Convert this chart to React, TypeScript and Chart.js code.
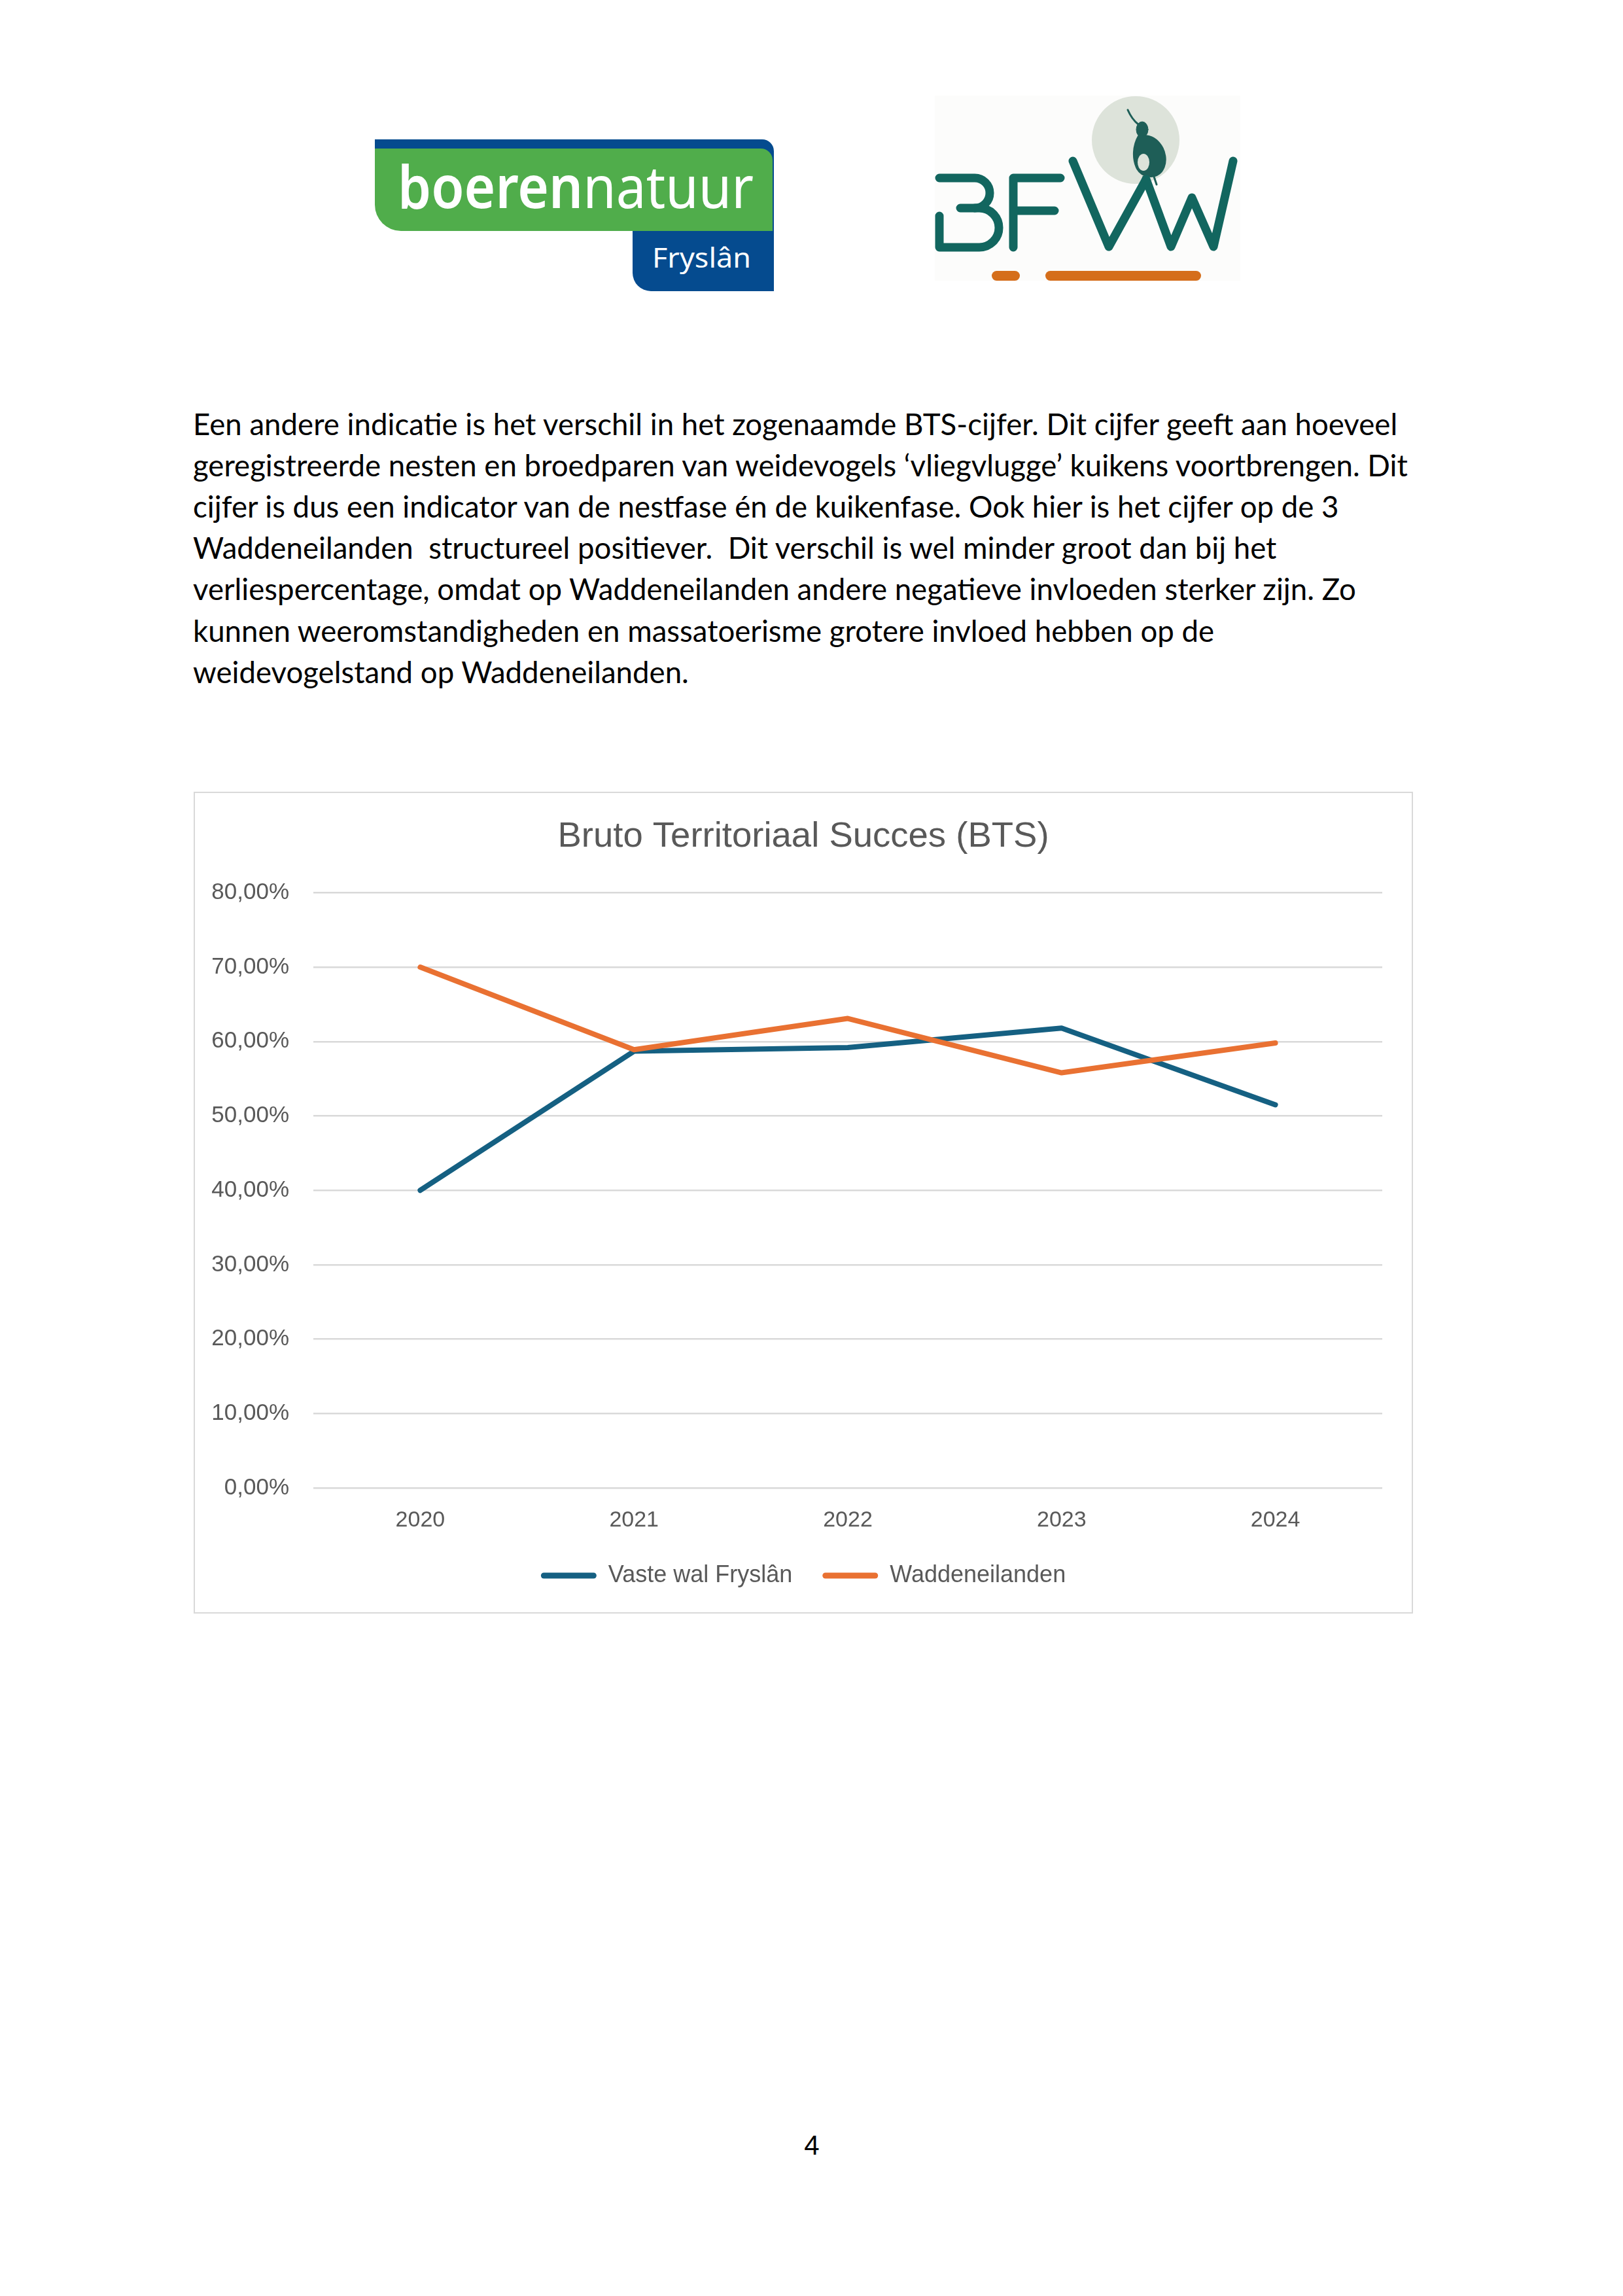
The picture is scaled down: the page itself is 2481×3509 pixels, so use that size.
import React, { useEffect, useRef } from "react";
import { Chart, registerables } from "chart.js";

Chart.register(...registerables);

// ---- Data ----
const chartTitle = "Bruto Territoriaal Succes (BTS)";
const years = ["2020", "2021", "2022", "2023", "2024"];
const seriesNames = ["Vaste wal Fryslân", "Waddeneilanden"];
const vasteWalFryslan = [40.0, 58.7, 59.2, 61.8, 51.5];
const waddeneilanden = [70.0, 58.9, 63.1, 55.8, 59.8];
const yMin = 0;
const yMax = 80;
const yStep = 10;
const seriesColors = ["#156082", "#E97132"];

const bodyLines = [
  "Een andere indicatie is het verschil in het zogenaamde BTS-cijfer. Dit cijfer geeft aan hoeveel",
  "geregistreerde nesten en broedparen van weidevogels ‘vliegvlugge’ kuikens voortbrengen. Dit",
  "cijfer is dus een indicator van de nestfase én de kuikenfase. Ook hier is het cijfer op de 3",
  "Waddeneilanden  structureel positiever.  Dit verschil is wel minder groot dan bij het",
  "verliespercentage, omdat op Waddeneilanden andere negatieve invloeden sterker zijn. Zo",
  "kunnen weeromstandigheden en massatoerisme grotere invloed hebben op de",
  "weidevogelstand op Waddeneilanden.",
];
const pageNumber = "4";

const chartFont = "'Liberation Sans', Arial, sans-serif";
const textGrey = "#595959";

function formatPct(v: number): string {
  return v.toFixed(2).replace(".", ",") + "%";
}

function BtsChart() {
  const ref = useRef<HTMLCanvasElement | null>(null);
  useEffect(() => {
    if (!ref.current) return;
    const chart = new Chart(ref.current, {
      type: "line",
      data: {
        labels: years,
        datasets: [
          {
            label: seriesNames[0],
            data: vasteWalFryslan,
            borderColor: seriesColors[0],
            backgroundColor: seriesColors[0],
            borderWidth: 8,
            pointRadius: 0,
            tension: 0,
            borderCapStyle: "round",
            borderJoinStyle: "round",
            order: 1,
          },
          {
            label: seriesNames[1],
            data: waddeneilanden,
            borderColor: seriesColors[1],
            backgroundColor: seriesColors[1],
            borderWidth: 8,
            pointRadius: 0,
            tension: 0,
            borderCapStyle: "round",
            borderJoinStyle: "round",
            order: 0,
          },
        ],
      },
      options: {
        animation: false,
        responsive: false,
        devicePixelRatio: 1,
        layout: { padding: { left: 0, right: 0, top: 0, bottom: 28 } },
        plugins: {
          title: {
            display: true,
            text: chartTitle,
            color: textGrey,
            font: { family: chartFont, size: 54.5, weight: "normal" },
            padding: { top: 34, bottom: 53 },
          },
          legend: {
            position: "bottom",
            labels: {
              boxWidth: 85,
              boxHeight: 9,
              padding: 46,
              color: textGrey,
              font: { family: chartFont, size: 36 },
              sort: (a: any, b: any) => a.datasetIndex - b.datasetIndex,
              generateLabels: (c: any) => {
                const items = Chart.defaults.plugins.legend.labels.generateLabels(c);
                return items.map((it: any) => ({
                  ...it,
                  lineWidth: 0,
                  fillStyle: seriesColors[it.datasetIndex],
                  strokeStyle: seriesColors[it.datasetIndex],
                  borderRadius: 4.5,
                }));
              },
            },
          },
          tooltip: { enabled: false },
        },
        scales: {
          x: {
            offset: true,
            grid: { display: false, drawTicks: false },
            border: { display: false },
            ticks: {
              color: textGrey,
              font: { family: chartFont, size: 34, lineHeight: 1 },
              padding: 33,
            },
            afterFit: (s: any) => {
              s.height = 70;
            },
          },
          y: {
            min: yMin,
            max: yMax,
            grid: { color: "#D9D9D9", lineWidth: 2.5, drawTicks: false },
            border: { display: false },
            ticks: {
              stepSize: yStep,
              color: textGrey,
              font: { family: chartFont, size: 35 },
              padding: 37,
              callback: (v: any) => formatPct(Number(v)),
            },
            afterFit: (s: any) => {
              s.width = 181;
            },
          },
          y2: {
            type: "linear",
            position: "right",
            display: true,
            grid: { display: false, drawTicks: false },
            border: { display: false },
            ticks: { display: false },
            afterFit: (s: any) => {
              s.width = 45;
            },
          },
        },
      } as any,
    });
    return () => chart.destroy();
  }, []);
  return <canvas ref={ref} width={1860} height={1252} style={{ display: "block" }} />;
}

export default function App() {
  const teal = "#12665f";
  return (
    <>
      <svg
        width={2481}
        height={3509}
        style={{ position: "absolute", left: 0, top: 0 }}
        xmlns="http://www.w3.org/2000/svg"
      >
        {/* boerennatuur Fryslân logo */}
        <path
          d="M573,213 H1165 A18,18 0 0 1 1183,231 V445 H995 A28,28 0 0 1 967,417 V240 H573 Z"
          fill="#054b8f"
        />
        <path
          d="M573,227 H1163 A18,18 0 0 1 1181,245 V353 H613 A40,40 0 0 1 573,313 Z"
          fill="#50ad4b"
        />
        <text
          x={608}
          y={318}
          fontFamily="'Noto Sans', 'Open Sans', sans-serif"
          fontSize={90}
          fill="#ffffff"
          textLength={544}
          lengthAdjust="spacingAndGlyphs"
        >
          <tspan fontWeight={600}>boeren</tspan>
          <tspan fontWeight={400}>natuur</tspan>
        </text>
        <text
          x={997}
          y={409}
          fontFamily="'Noto Sans', 'Open Sans', sans-serif"
          fontSize={42}
          fill="#ffffff"
          textLength={151}
          lengthAdjust="spacingAndGlyphs"
        >
          Fryslân
        </text>

        {/* BFVW logo */}
        <rect x={1429} y={146} width={467} height={283} fill="#fcfcfb" />
        <circle cx={1736} cy={214} r={67} fill="#dde3da" />
        <g fill="none" stroke="#1e5e57" strokeLinecap="round" strokeLinejoin="round">
          <path d="M1724,168 Q1730,182 1740,190" strokeWidth={3} />
          <ellipse cx={1746} cy={198} rx={9} ry={12} fill="#1e5e57" strokeWidth={1} />
          <path d="M1740,208 C1732,222 1730,242 1738,258 C1746,272 1766,274 1776,262 C1786,248 1782,228 1770,216 C1762,208 1752,206 1744,208 Z" fill="#1e5e57" strokeWidth={2} />
          <ellipse cx={1748} cy={248} rx={9} ry={13} fill="#dde3da" stroke="none" />
          <path d="M1748,270 L1744,282 M1764,270 L1768,282" strokeWidth={3} />
        </g>
        <g fill="none" stroke={teal} strokeWidth={13} strokeLinecap="round" strokeLinejoin="round">
          <path d="M1436,272 H1490 A23,23 0 0 1 1490,318" />
          <path d="M1436,330 V378 H1497 A30,30 0 0 0 1497,318 H1468" />
          <path d="M1549,378 V272 H1621 M1549,322 H1612" />
          <path d="M1640,246 L1695,377 L1752,274 L1790,377 L1822,302 L1855,377 L1885,246" />
        </g>
        <rect x={1516} y={414} width={43} height={15} rx={7.5} fill="#d56e1b" />
        <rect x={1598} y={414} width={238} height={15} rx={7.5} fill="#d56e1b" />

        {/* Body text */}
        {bodyLines.map((line, i) => (
          <text
            key={i}
            x={295}
            y={665 + i * 63.1}
            fontFamily="Lato, 'Open Sans', sans-serif"
            fontSize={45.6}
            fill="#000000"
            style={{ whiteSpace: "pre" }}
          >
            {line}
          </text>
        ))}

        {/* Page number */}
        <text
          x={1241}
          y={3293}
          textAnchor="middle"
          fontFamily="'Liberation Sans', Arial, sans-serif"
          fontSize={42}
          fill="#000000"
        >
          {pageNumber}
        </text>
      </svg>

      <div
        style={{
          position: "absolute",
          left: 296,
          top: 1210,
          width: 1860,
          height: 1252,
          border: "2px solid #D9D9D9",
          background: "#ffffff",
        }}
      >
        <BtsChart />
      </div>
    </>
  );
}
